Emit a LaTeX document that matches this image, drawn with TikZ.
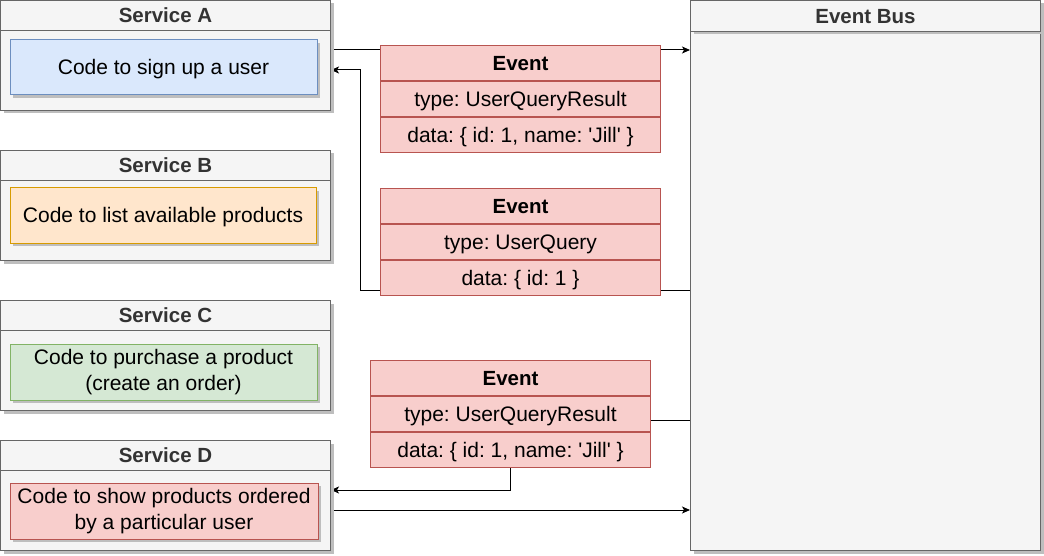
\documentclass[tikz,border=0pt]{standalone}
\usepackage{fontspec}
\setmainfont{Liberation Sans}
\usetikzlibrary{arrows.meta,shadows,backgrounds}
\frenchspacing

\definecolor{lanefill}{HTML}{F5F5F5}
\definecolor{laneline}{HTML}{666666}
\definecolor{lanetext}{HTML}{333333}
\definecolor{bluefill}{HTML}{DAE8FC}
\definecolor{blueline}{HTML}{6C8EBF}
\definecolor{orangefill}{HTML}{FFE6CC}
\definecolor{orangeline}{HTML}{D79B00}
\definecolor{greenfill}{HTML}{D5E8D4}
\definecolor{greenline}{HTML}{82B366}
\definecolor{redfill}{HTML}{F8CECC}
\definecolor{redline}{HTML}{B85450}
\definecolor{shade}{HTML}{BEBEBE}

\newcommand{\txtfont}{\fontsize{21}{25.5}\selectfont}
\newcommand{\hdfont}{\bfseries\fontsize{20.5}{25}\selectfont}

\tikzset{
  oneline/.style={text height=18.8pt, text depth=4.4pt},
  boxshadow/.style={drop shadow={shadow xshift=3pt, shadow yshift=-3pt, fill=shade, opacity=1}},
  lane/.style={draw=laneline, fill=lanefill, line width=1pt, inner sep=0pt,
    minimum width=330pt, minimum height=110pt, anchor=north west, boxshadow},
  lanehead/.style={draw=laneline, fill=lanefill, line width=1pt, inner sep=0pt,
    minimum width=330pt, minimum height=30pt, anchor=north west,
    text=lanetext, font=\hdfont, oneline},
  codebox/.style={line width=1pt, inner sep=0pt, align=center, font=\txtfont, boxshadow},
  evrow/.style={draw=redline, fill=redfill, line width=1pt, inner sep=0pt,
    minimum width=280pt, minimum height=35pt, anchor=north west, font=\txtfont, oneline},
  flow/.style={line width=1pt, -{Stealth[length=8pt,width=7pt,inset=2pt]}}
}

\begin{document}
\begin{tikzpicture}[x=1pt, y=-1pt]
  \useasboundingbox (0,0) rectangle (1044,556);

  % services
  \node[lane] (sA) at (0,0) {};
  \node[lanehead] (sAh) at (0,0) {Service A};
  \node[codebox, oneline, draw=blueline, fill=bluefill, minimum width=307pt, minimum height=55pt]
    (sAc) at (163.5,67.5) {Code to sign up a user};

  \node[lane] (sB) at (0,150) {};
  \node[lanehead] (sBh) at (0,150) {Service B};
  \node[codebox, oneline, draw=orangeline, fill=orangefill, minimum width=306pt, minimum height=55pt]
    (sBc) at (163,215.5) {Code to list available products};

  \node[lane] (sC) at (0,300) {};
  \node[lanehead] (sCh) at (0,300) {Service C};
  \node[codebox, draw=greenline, fill=greenfill, minimum width=307pt, minimum height=56pt]
    (sCc) at (163.5,372) {Code to purchase a product\\(create an order)};

  \node[lane] (sD) at (0,440) {};
  \node[lanehead] (sDh) at (0,440) {Service D};
  \node[codebox, draw=redline, fill=redfill, minimum width=308pt, minimum height=56pt]
    (sDc) at (164,511) {Code to show products ordered\\by a particular user};

  % event bus
  \node[lane, minimum width=350pt, minimum height=550pt] (bus) at (690,0) {};
  \node[lanehead, minimum width=350pt, minimum height=31pt, boxshadow] (bush) at (690,0) {Event Bus};

  % events
  \node[evrow, font=\hdfont] (e1h) at (380,45) {Event};
  \node[evrow] (e1t) at (e1h.south west) {type: UserQueryResult};
  \node[evrow] (e1d) at (e1t.south west) {data: \{ id: 1, name: \textquotesingle Jill\textquotesingle\ \}};

  \node[evrow, font=\hdfont] (e2h) at (380,188) {Event};
  \node[evrow] (e2t) at (e2h.south west) {type: UserQuery};
  \node[evrow] (e2d) at (e2t.south west) {data: \{ id: 1 \}};

  \node[evrow, font=\hdfont] (e3h) at (370,360) {Event};
  \node[evrow] (e3t) at (e3h.south west) {type: UserQueryResult};
  \node[evrow] (e3d) at (e3t.south west) {data: \{ id: 1, name: \textquotesingle Jill\textquotesingle\ \}};

  % connectors
  \begin{scope}[on background layer]
    \draw[flow] (sA.east |- 0,50) -- (bus.west |- 0,50);
    \draw[flow] (bus.west |- 0,290) -- (360,290) |- (sA.east |- 0,70);
    \draw[flow] (bus.west |- 0,420) -| (e3d.south) |- (sD.east |- 0,490);
    \draw[flow] (sD.east |- 0,510) -- (bus.west |- 0,510);
  \end{scope}
\end{tikzpicture}
\end{document}
